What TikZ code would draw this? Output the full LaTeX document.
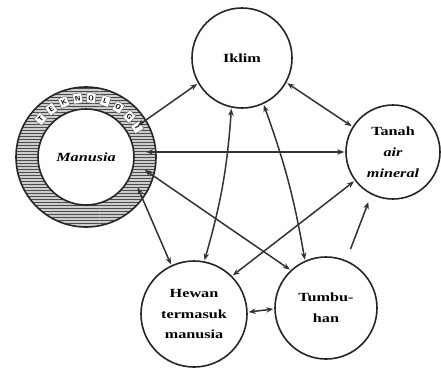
\documentclass[tikz,border=0pt]{standalone}
\usepackage{fontspec}
\setmainfont{Liberation Serif}
\usepackage{graphicx}
\usetikzlibrary{arrows.meta,patterns}
\newcommand\stretchtxt[1]{\scalebox{1.3}[1]{#1}}
\begin{document}
\begin{tikzpicture}[x=1bp,y=-1bp,
 circ/.style={circle,draw=black!85,line width=1.6bp,inner sep=0,align=center,
   font=\fontsize{12.5}{21}\selectfont\bfseries},
 link/.style={line width=1.5bp,draw=black!80,{Stealth[length=7bp,width=5.5bp]}-{Stealth[length=7bp,width=5.5bp]},shorten <=1bp,shorten >=1bp},
 one/.style={line width=1.5bp,draw=black!80,-{Stealth[length=7bp,width=5.5bp]}},
 letter/.style={draw=black!60,fill=white,line width=0.4bp,inner sep=0.6bp,
   minimum width=9bp,minimum height=10bp,font=\sffamily\bfseries\fontsize{7}{7}\selectfont}]
\useasboundingbox (0,0) rectangle (441,373);
\fill[white] (0,0) rectangle (441,373);
% ring
\fill[gray!40,even odd rule] (86,157) circle (70) (86,157) circle (48);
\fill[pattern=horizontal lines,pattern color=black!70,even odd rule] (86,157) circle (70) (86,157) circle (48);
\node[circ,minimum size=140bp] (man) at (86,157) {};
\node[circ,minimum size=96bp,fill=white] (mani) at (86,157) {\textit{\stretchtxt{Manusia}}};
\node[circle,inner sep=0,minimum size=118bp] (mant) at (86,157) {};
\foreach \l [count=\i] in {T,E,K,N,O,L,O,G,I}{
  \pgfmathsetmacro\a{140-(\i-1)*13.75}
  \node[letter,rotate=\a-90] at (mant.\a) {\l};
}
% other nodes
\node[circ,minimum size=100bp] (ik) at (242,58) {\stretchtxt{Iklim}};
\node[circ,minimum size=94bp] (tn) at (393,152) {\stretchtxt{Tanah}\\\stretchtxt{\textit{air}}\\\stretchtxt{\textit{mineral}}};
\node[circ,minimum size=106bp] (hw) at (194,314) {\stretchtxt{Hewan}\\\stretchtxt{termasuk}\\\stretchtxt{manusia}};
\node[circ,minimum size=102bp] (tb) at (326,308) {\stretchtxt{Tumbu-}\\\stretchtxt{han}};
% connectors
\draw[link] (mant.31) -- (ik.210);
\draw[link] (tn.west -| mant.east) -- (tn.west);
\draw[link] (mant.-12) -- (tb.133);
\draw[link] (mant.-30) -- (hw.115);
\draw[link] (ik.258) to[bend left=6] (hw.79);
\draw[link] (ik.295) to[bend left=5] (tb.114);
\draw[link] (ik.331) -- (tn.148);
\draw[link] (hw.45) -- (tn.217);
\draw[one,shorten <=12bp,shorten >=8bp] (tb.67) -- (tn.243);
\draw[link] (hw.2) -- (tb.181);
\end{tikzpicture}
\end{document}
